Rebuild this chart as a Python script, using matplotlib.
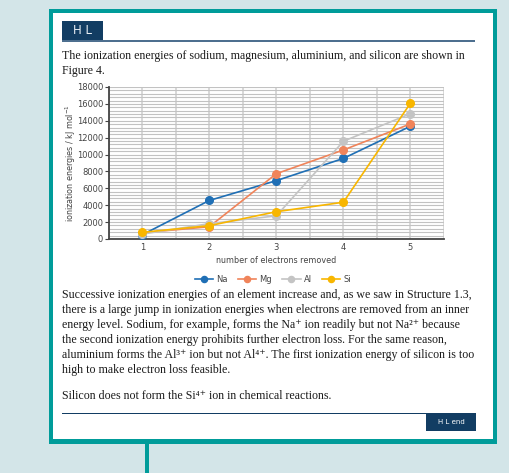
import matplotlib
matplotlib.use("Agg")
import matplotlib.pyplot as plt
from matplotlib.patches import Rectangle
import numpy as np

W, H = 509, 473
fig = plt.figure(figsize=(W/100, H/100), dpi=100)
fig.patch.set_facecolor("#d3e5e8")

def fx(x): return x / W
def fy(y): return 1 - y / H

def rect(x0, y0, x1, y1, color, z=0):
    fig.add_artist(Rectangle((fx(x0), fy(y1)), fx(x1) - fx(x0), fy(y0) - fy(y1),
                             transform=fig.transFigure, facecolor=color, edgecolor="none", zorder=z))

# Data
electrons = [1, 2, 3, 4, 5]
na = [496, 4562, 6910, 9543, 13354]
mg = [738, 1451, 7733, 10543, 13630]
al = [578, 1817, 2745, 11577, 14842]
si = [787, 1577, 3232, 4356, 16091]
series = {"Na": na, "Mg": mg, "Al": al, "Si": si}
colors = {"Na": "#1f6fb5", "Mg": "#f0845a", "Al": "#c4c4c4", "Si": "#f8b600"}
yticks = [0, 2000, 4000, 6000, 8000, 10000, 12000, 14000, 16000, 18000]

# frame
teal = "#009c9a"
rect(49, 9, 497, 444, teal, 0)
rect(53, 13, 493, 439, "white", 1)
rect(145, 444, 149, 473, teal, 0)

# HL header
navy = "#123d63"
rect(62, 21, 103, 41, navy, 2)
rect(62, 40.5, 475, 42, "#4d6f8f", 2)
fig.text(fx(82.5), fy(31), "H L", color="#e8eef4", fontsize=8.5, ha="center", va="center",
         family="DejaVu Sans", zorder=3)

serif = ["Liberation Serif", "DejaVu Serif"]
fs = 8.6
tc = "#1a1a1a"
fig.text(fx(62), fy(56), "The ionization energies of sodium, magnesium, aluminium, and silicon are shown in",
         fontsize=fs, family=serif, color=tc, va="center", zorder=3)
fig.text(fx(62), fy(71), "Figure 4.", fontsize=fs, family=serif, color=tc, va="center", zorder=3)

# chart
ax = fig.add_axes([fx(108.7), fy(239), fx(444) - fx(108.7), fy(87) - fy(239)])
ax.set_zorder(3)
ax.set_xlim(0.5, 5.5)
ax.set_ylim(0, 18000)
ax.set_yticks(yticks)
ax.set_yticks(np.arange(0, 18001, 400), minor=True)
ax.set_xticks(electrons)
ax.set_xticks([0.5, 1.5, 2.5, 3.5, 4.5, 5.5], minor=True)
ax.grid(True, which="minor", axis="y", color="#c2c2c2", lw=0.8)
ax.grid(True, which="major", axis="y", color="#c2c2c2", lw=0.8)
ax.grid(True, which="both", axis="x", color="#d6d6d6", lw=1.3)
ax.set_axisbelow(True)
for s in ["top", "right"]:
    ax.spines[s].set_visible(False)
ax.spines["left"].set_color("#444444")
ax.spines["bottom"].set_color("#444444")
ax.spines["left"].set_linewidth(1.3)
ax.spines["bottom"].set_linewidth(1.3)
ax.tick_params(axis="y", which="minor", length=0)
ax.tick_params(axis="x", which="minor", length=0)
ax.tick_params(axis="both", which="major", labelsize=6, colors="#444444", length=3, width=0.8, pad=1)
ax.tick_params(axis="x", which="major", length=0, pad=3)
ax.set_xticklabels([str(e) for e in electrons])
for name, vals in series.items():
    ax.plot(electrons, vals, color=colors[name], lw=1.2, marker="o", ms=5.5, label=name, zorder=4)
ax.set_xlabel("number of electrons removed", fontsize=5.8, color="#444444", labelpad=3)
ax.set_ylabel("ionization energies / kJ mol$^{-1}$", fontsize=5.8, color="#444444", labelpad=-1)
ax.legend(loc="upper center", bbox_to_anchor=(0.49, -0.19), ncol=4, frameon=False, fontsize=6,
          handlelength=2.2, markerscale=0.8, columnspacing=1.2, handletextpad=0.4,
          labelcolor="#444444")

para = [
    "Successive ionization energies of an element increase and, as we saw in Structure 1.3,",
    "there is a large jump in ionization energies when electrons are removed from an inner",
    "energy level. Sodium, for example, forms the Na\u207a ion readily but not Na\u00b2\u207a because",
    "the second ionization energy prohibits further electron loss. For the same reason,",
    "aluminium forms the Al\u00b3\u207a ion but not Al\u2074\u207a. The first ionization energy of silicon is too",
    "high to make electron loss feasible.",
]
ys = [295, 310, 325, 340, 355, 370]
for y, t in zip(ys, para):
    fig.text(fx(62), fy(y), t, fontsize=fs, family=serif, color=tc, va="center", zorder=3)
fig.text(fx(62), fy(396), "Silicon does not form the Si\u2074\u207a ion in chemical reactions.",
         fontsize=fs, family=serif, color=tc, va="center", zorder=3)

rect(62, 412.5, 476, 413.5, navy, 2)
rect(426, 413, 476, 431, navy, 2)
fig.text(fx(451), fy(422), "H L end", color="white", fontsize=5, ha="center", va="center",
         family="DejaVu Sans", zorder=3)

fig.savefig("out.png", dpi=100, facecolor=fig.get_facecolor())
